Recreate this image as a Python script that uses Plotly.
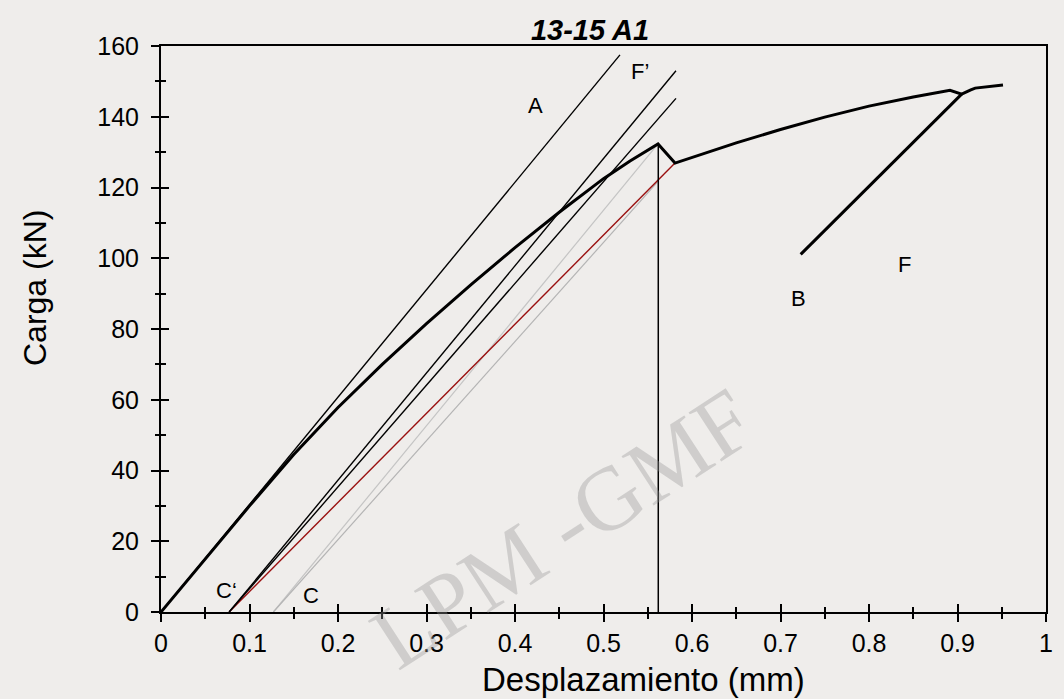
import plotly.graph_objects as go

# ---- data ----
disp_main = [0, 0.05, 0.10, 0.15, 0.20, 0.25, 0.30, 0.35, 0.40, 0.45, 0.50, 0.53, 0.5616,
             0.5808, 0.60, 0.65, 0.70, 0.75, 0.80, 0.85, 0.8915, 0.9047, 0.915, 0.92, 0.9514]
load_main = [0, 15.1, 30.0, 44.5, 57.8, 70.0, 81.5, 92.5, 103.0, 113.0, 122.5, 127.5, 132.3,
             126.9, 128.5, 132.6, 136.4, 139.9, 143.0, 145.6, 147.5, 146.4, 147.6, 148.1, 149.0]

line_a_x = [0, 0.5186]
line_a_y = [0, 157.5]
line_f1_x = [0.077, 0.5819]
line_f1_y = [0, 153.0]
line_f2_x = [0.077, 0.5819]
line_f2_y = [0, 145.2]
red_x = [0.077, 0.5808]
red_y = [0, 126.9]
gray1_x = [0.127, 0.5616]
gray1_y = [0, 132.3]
gray2_x = [0.127, 0.5619]
gray2_y = [0, 121.8]
vert_x = [0.5619, 0.5619]
vert_y = [0, 132.3]
bf_x = [0.7228, 0.9047]
bf_y = [101.1, 146.4]

label_text = ["A", "F’", "C‘", "C", "B", "F"]
label_x = [0.4226, 0.541, 0.0742, 0.1695, 0.7202, 0.8399]
label_y = [143.3, 152.9, 6.2, 4.8, 88.7, 98.1]

x_ticks = [0, 0.1, 0.2, 0.3, 0.4, 0.5, 0.6, 0.7, 0.8, 0.9, 1]
x_tick_text = ["0", "0.1", "0.2", "0.3", "0.4", "0.5", "0.6", "0.7", "0.8", "0.9", "1"]
y_ticks = [0, 20, 40, 60, 80, 100, 120, 140, 160]

FONT = "Liberation Sans, Arial, sans-serif"

fig = go.Figure()

def add_line(x, y, color, width):
    fig.add_trace(go.Scatter(x=x, y=y, mode="lines", line=dict(color=color, width=width),
                             showlegend=False, hoverinfo="skip"))

add_line(gray1_x, gray1_y, "#c4c4c4", 1.2)
add_line(gray2_x, gray2_y, "#b4b4b4", 1.2)
add_line(red_x, red_y, "#9a1010", 1.4)
add_line(line_a_x, line_a_y, "#000000", 1.4)
add_line(line_f1_x, line_f1_y, "#000000", 1.4)
add_line(line_f2_x, line_f2_y, "#000000", 1.4)
add_line(vert_x, vert_y, "#000000", 1.5)
add_line(bf_x, bf_y, "#000000", 3)
add_line(disp_main, load_main, "#000000", 3)

# invisible trace for the overlay axes (inner half of the crossing ticks)
fig.add_trace(go.Scatter(x=[0], y=[0], xaxis="x2", yaxis="y2", mode="markers",
                         marker=dict(opacity=0), showlegend=False, hoverinfo="skip"))

for t, x, y in zip(label_text, label_x, label_y):
    fig.add_annotation(x=x, y=y, text=t, showarrow=False,
                       font=dict(family=FONT, size=22, color="#000000"))

# watermark
fig.add_annotation(xref="paper", yref="paper", x=(562 - 161) / 885, y=(612 - 528) / 566,
                   xanchor="center", yanchor="middle",
                   text="LPM -GMF", showarrow=False, textangle=-33,
                   font=dict(family="Liberation Serif, serif", size=90,
                             color="rgba(150,150,150,0.36)"))

# axis titles (placed as in the reference)
fig.add_annotation(xref="paper", yref="paper", x=(643 - 161) / 885, y=(612 - 679) / 566,
                   xanchor="center", yanchor="middle", showarrow=False,
                   text="Desplazamiento (mm)", font=dict(family=FONT, size=33, color="#000000"))
fig.add_annotation(xref="paper", yref="paper", x=(35 - 161) / 885, y=(612 - 288) / 566,
                   xanchor="center", yanchor="middle", showarrow=False, textangle=-90,
                   text="Carga (kN)", font=dict(family=FONT, size=32, color="#000000"))

axis_common = dict(showline=True, linecolor="#000000", linewidth=2, showgrid=False,
                   zeroline=False, ticklen=8, tickwidth=1.5, tickcolor="#000000")

fig.update_layout(
    width=1064, height=699,
    margin=dict(l=161, r=18, t=46, b=87),
    paper_bgcolor="#efedeb",
    plot_bgcolor="rgba(0,0,0,0)",
    title=dict(text="<b><i>13-15 A1</i></b>", x=590 / 1064, xref="container", xanchor="center",
               y=1 - 30 / 699, yanchor="middle", font=dict(family=FONT, size=29, color="#000000")),
    xaxis=dict(range=[0, 1], tickvals=x_ticks, ticktext=x_tick_text, ticks="outside",
               mirror=True, minor=dict(dtick=0.05, ticks="outside", ticklen=5, tickwidth=1.5,
                                       tickcolor="#000000"),
               tickfont=dict(family=FONT, size=25, color="#000000"),
               **axis_common),
    yaxis=dict(range=[0, 160], tickvals=y_ticks, ticks="outside", mirror=True,
               minor=dict(dtick=10, ticks="outside", ticklen=4, tickwidth=1.5, tickcolor="#000000"),
               tickfont=dict(family=FONT, size=25, color="#000000"), ticklabelstandoff=7,
               **axis_common),
    xaxis2=dict(range=[0, 1], overlaying="x", anchor="y", side="bottom", tickvals=x_ticks,
                ticks="inside", showticklabels=False, showline=False, showgrid=False,
                zeroline=False, ticklen=8, tickwidth=1.5, tickcolor="#000000",
                minor=dict(dtick=0.05, ticks="inside", ticklen=5, tickwidth=1.5,
                           tickcolor="#000000")),
    yaxis2=dict(range=[0, 160], overlaying="y", anchor="x", side="left", tickvals=y_ticks,
                ticks="inside", showticklabels=False, showline=False, showgrid=False,
                zeroline=False, ticklen=8, tickwidth=1.5, tickcolor="#000000",
                minor=dict(dtick=10, ticks="inside", ticklen=5, tickwidth=1.5,
                           tickcolor="#000000")),
)

fig.write_html("out.html", config={"displayModeBar": False},
               post_script="document.body.style.margin='0';")
